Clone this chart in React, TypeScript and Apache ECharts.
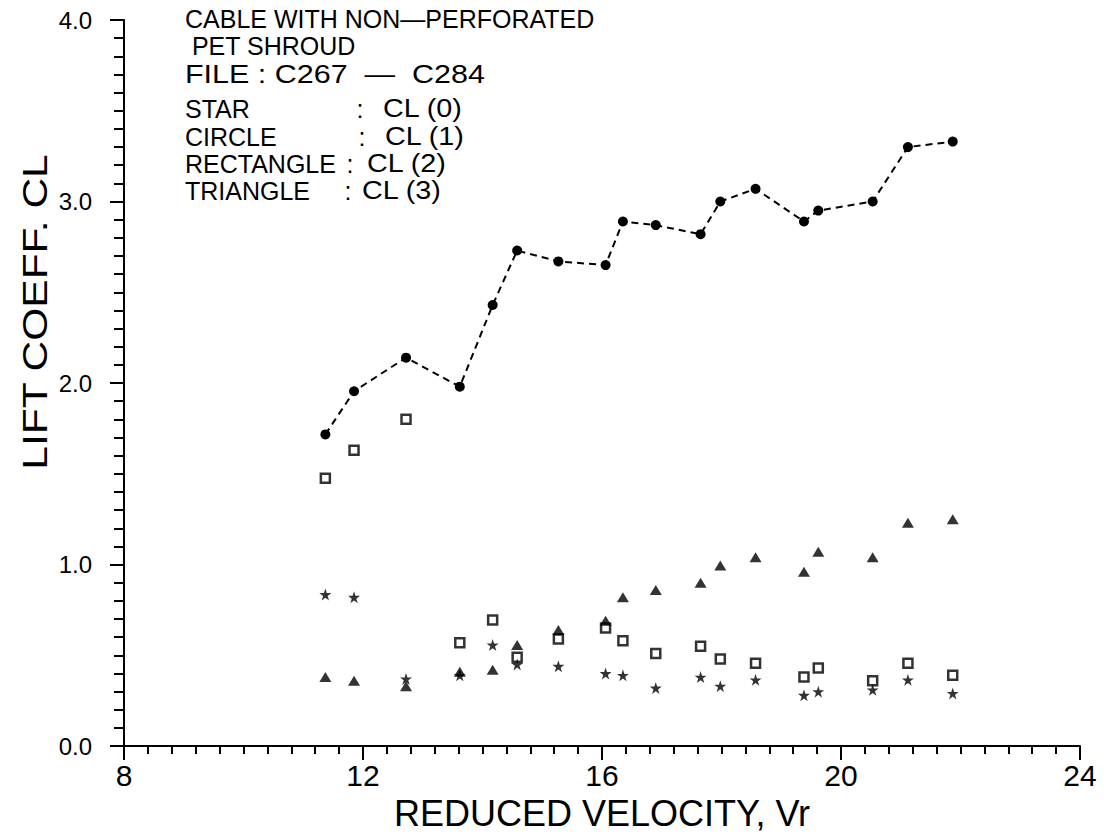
import React, { useEffect, useRef } from "react";
import * as echarts from "echarts";

// Reduced velocity (x) shared by all four coefficient records
const vr = [11.37, 11.85, 12.72, 13.62, 14.17, 14.58, 15.27, 16.06, 16.35, 16.9, 17.65, 17.98, 18.57, 19.38, 19.62, 20.53, 21.12, 21.87];
// STAR : CL (0)
const cl0 = [0.835, 0.82, 0.37, 0.39, 0.557, 0.45, 0.44, 0.4, 0.39, 0.32, 0.38, 0.33, 0.365, 0.28, 0.3, 0.31, 0.365, 0.29];
// CIRCLE : CL (1)
const cl1 = [1.717, 1.955, 2.14, 1.98, 2.43, 2.73, 2.67, 2.65, 2.89, 2.87, 2.82, 3.0, 3.07, 2.89, 2.95, 3.0, 3.3, 3.33];
// RECTANGLE : CL (2)
const cl2 = [1.475, 1.63, 1.8, 0.57, 0.695, 0.49, 0.59, 0.65, 0.58, 0.51, 0.55, 0.48, 0.456, 0.38, 0.43, 0.36, 0.456, 0.39];
// TRIANGLE : CL (3)
const cl3 = [0.38, 0.36, 0.33, 0.41, 0.42, 0.557, 0.64, 0.69, 0.82, 0.86, 0.9, 0.995, 1.04, 0.96, 1.07, 1.04, 1.23, 1.25];

const titleLines = ["CABLE WITH NON—PERFORATED", " PET SHROUD", "FILE : C267  —  C284"];
const legendNames = ["STAR", "CIRCLE", "RECTANGLE", "TRIANGLE"];
const legendValues = ["CL (0)", "CL (1)", "CL (2)", "CL (3)"];

const xTitle = "REDUCED VELOCITY, Vr";
const yTitle = "LIFT COEFF. CL";

const FONT = "'Liberation Sans', Arial, Helvetica, sans-serif";
const STAR = "path://M50 0 L61.2 34.5 L97.6 34.5 L68.2 55.9 L79.4 90.5 L50 69.1 L20.6 90.5 L31.8 55.9 L2.4 34.5 L38.8 34.5 Z";

export default function App() {
  const ref = useRef<HTMLDivElement>(null);
  useEffect(() => {
    if (!ref.current) return;
    const chart = echarts.init(ref.current, null, { renderer: "svg" });
    const pts = (ys: number[]) => vr.map((x, i) => [x, ys[i]]);

    const lineY = [19, 46, 74];
    const lineScale = [1, 1, 1.22];
    const legY = [109, 137, 164, 191];
    const colonX = [360, 362, 350, 348];
    const valX = [383, 385, 367, 362];
    const font = `25px ${FONT}`;
    const graphics: any[] = [];
    titleLines.forEach((t, i) => {
      graphics.push({
        type: "text", x: 185, y: lineY[i], scaleX: lineScale[i],
        style: { text: t, font, fill: "#000", align: "left", verticalAlign: "middle" },
      });
    });
    legendNames.forEach((t, i) => {
      graphics.push({
        type: "text", x: 185, y: legY[i],
        style: { text: t, font, fill: "#000", align: "left", verticalAlign: "middle" },
      });
      graphics.push({
        type: "text", x: colonX[i], y: legY[i],
        style: { text: ":", font, fill: "#000", align: "center", verticalAlign: "middle" },
      });
      graphics.push({
        type: "text", x: valX[i], y: legY[i], scaleX: 1.15,
        style: { text: legendValues[i], font, fill: "#000", align: "left", verticalAlign: "middle" },
      });
    });
    graphics.push({
      type: "text", x: 34, y: 312, rotation: Math.PI / 2, scaleX: 1.18,
      style: { text: yTitle, font: `36px ${FONT}`, fill: "#000", align: "center", verticalAlign: "middle" },
    });

    chart.setOption({
      animation: false,
      backgroundColor: "#fff",
      grid: { left: 124, right: 24, top: 20, bottom: 86, containLabel: false },
      xAxis: {
        type: "value", min: 8, max: 24, interval: 4,
        name: xTitle, nameLocation: "middle", nameGap: 43,
        nameTextStyle: { fontSize: 36, fontFamily: FONT, color: "#000" },
        axisLine: { show: true, onZero: false, lineStyle: { color: "#000", width: 2 } },
        axisTick: { show: true, inside: false, length: 14, lineStyle: { color: "#000", width: 2 } },
        minorTick: { show: true, splitNumber: 10, length: 8, lineStyle: { color: "#000", width: 2 } },
        axisLabel: { fontSize: 30, fontFamily: FONT, color: "#000", margin: 14, formatter: (v: number) => String(v) },
        splitLine: { show: false },
      },
      yAxis: {
        type: "value", min: 0, max: 4, interval: 1,
        axisLine: { show: true, onZero: false, lineStyle: { color: "#000", width: 2 } },
        axisTick: { show: true, inside: false, length: 14, lineStyle: { color: "#000", width: 2 } },
        minorTick: { show: true, splitNumber: 10, length: 10, lineStyle: { color: "#000", width: 2 } },
        axisLabel: { fontSize: 24, fontFamily: FONT, color: "#000", margin: 32, formatter: (v: number) => v.toFixed(1) },
        splitLine: { show: false },
      },
      graphic: graphics,
      series: [
        {
          name: "CL (1)", type: "line", data: pts(cl1),
          symbol: "circle", symbolSize: 10, showSymbol: true,
          lineStyle: { color: "#000", width: 2, type: [7, 5] },
          itemStyle: { color: "#000" },
        },
        {
          name: "CL (2)", type: "scatter", data: pts(cl2),
          symbol: "rect", symbolSize: 9,
          itemStyle: { color: "#fff", borderColor: "#000", borderWidth: 2.5 },
        },
        {
          name: "CL (3)", type: "scatter", data: pts(cl3),
          symbol: "triangle", symbolSize: [12, 10],
          itemStyle: { color: "#000" },
        },
        {
          name: "CL (0)", type: "scatter", data: pts(cl0),
          symbol: STAR, symbolSize: 12,
          itemStyle: { color: "#000" },
        },
      ],
    });
    return () => chart.dispose();
  }, []);
  return (
    <div
      ref={ref}
      style={{ position: "absolute", left: 0, top: 0, width: 1104, height: 836, background: "#fff" }}
    />
  );
}
